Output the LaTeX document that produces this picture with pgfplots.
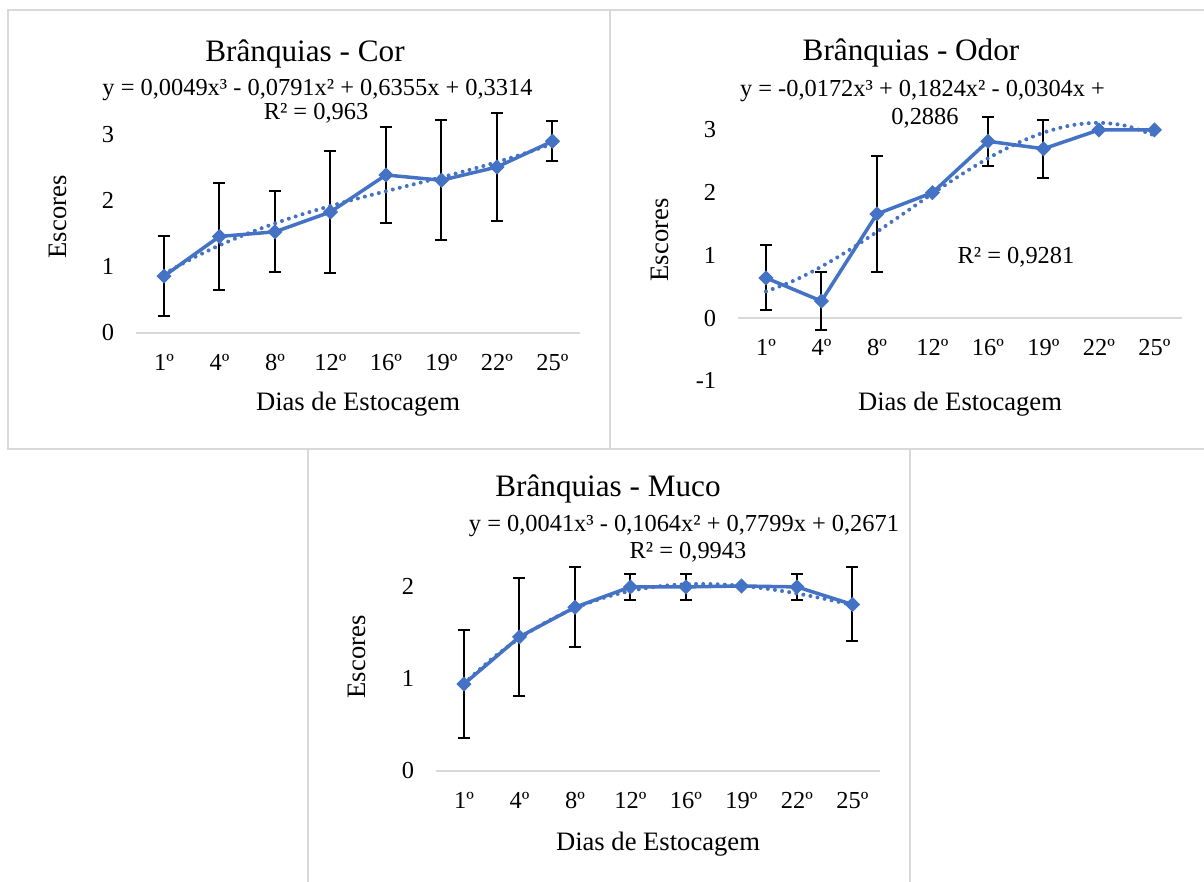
\documentclass[border=0pt]{standalone}
\usepackage{fontspec}
\setmainfont{Liberation Serif}
\usepackage{pgfplots}
\usepackage{pgfplotstable}
\pgfplotsset{compat=1.18}
\definecolor{exblue}{HTML}{4472C4}
\definecolor{gridgray}{HTML}{D9D9D9}
\newcommand\ticksize{\fontsize{12.2}{14}\selectfont}
\newcommand\labsize{\fontsize{13.3}{15}\selectfont}
\newcommand\titsize{\fontsize{15.6}{18}\selectfont}
\newcommand\eqsize{\fontsize{12.2}{14}\selectfont}

% ---- Brânquias - Cor
\pgfplotstableread{
x y e
1 0.86 0.61
2 1.46 0.81
3 1.53 0.61
4 1.83 0.92
5 2.39 0.72
6 2.31 0.91
7 2.51 0.81
8 2.90 0.30
}\cor
\pgfplotstableread{
x y
1 0.893
1.5 1.123
2 1.325
2.5 1.502
3 1.658
3.5 1.797
4 1.921
4.5 2.036
5 2.144
5.5 2.249
6 2.355
6.5 2.466
7 2.585
7.5 2.716
8 2.862
}\corfit
% ---- Brânquias - Odor
\pgfplotstableread{
x y
1 0.64
2 0.27
3 1.66
4 2.00
5 2.82
6 2.70
7 3.00
8 3.00
}\odor
\pgfplotstableread{
x y e
1 0.64 0.52
2 0.27 0.46
3 1.66 0.92
5 2.82 0.39
6 2.70 0.46
}\odorerr
\pgfplotstableread{
x y
1 0.423
1.5 0.595
2 0.820
2.5 1.084
3 1.375
3.5 1.679
4 1.985
4.5 2.278
5 2.547
5.5 2.777
6 2.957
6.5 3.074
7 3.114
7.5 3.064
8 2.913
}\odorfit
% ---- Brânquias - Muco
\pgfplotstableread{
x y
1 0.94
2 1.45
3 1.77
4 1.99
5 1.99
6 2.00
7 1.99
8 1.80
}\muco
\pgfplotstableread{
x y e
1 0.94 0.58
2 1.45 0.64
3 1.77 0.43
4 1.99 0.14
5 1.99 0.14
7 1.99 0.14
8 1.80 0.40
}\mucoerr
\pgfplotstableread{
x y
1 0.945
1.5 1.211
2 1.434
2.5 1.616
3 1.760
3.5 1.869
4 1.947
4.5 1.996
5 2.019
5.5 2.020
6 2.002
6.5 1.967
7 1.919
7.5 1.861
8 1.796
}\mucofit

\pgfplotsset{
  panel/.style={
    scale only axis, width=222pt, anchor=south west,
    xmin=0.5, xmax=8.5,
    xtick={1,2,3,4,5,6,7,8},
    xticklabels={1º,4º,8º,12º,16º,19º,22º,25º},
    axis x line*=middle, axis y line*=left,
    x axis line style={draw=gridgray, line width=1pt},
    y axis line style={draw=none},
    major tick length=0pt,
    hide obscured x ticks=false, hide obscured y ticks=false,
    tick label style={font=\ticksize, text=black},
    xticklabel style={yshift=-7pt},
    yticklabel style={xshift=-7.5pt},
    clip=false,
  },
  errs/.style={forget plot, draw=none, mark=none,
    error bars/.cd, y dir=both, y explicit,
    error bar style={draw=black, solid, line width=1pt},
    error mark options={rotate=90, draw=black, mark size=3pt, line width=1pt}},
  series/.style={exblue, line width=1.75pt, mark=square*, mark size=1.8pt,
    mark options={rotate=45, solid, fill=exblue}},
  trend/.style={exblue, line width=2pt, line cap=round,
    dash pattern=on 0pt off 3.6pt, smooth},
}

\begin{document}
\begin{tikzpicture}
\useasboundingbox (0pt,0pt) rectangle (602pt,441pt);
% panel frames
\draw[gridgray, line width=1pt] (4pt,216.5pt) rectangle (305pt,436pt);
\draw[gridgray, line width=1pt] (602pt,436pt) -- (305pt,436pt) -- (305pt,216.5pt) -- (602pt,216.5pt);
\draw[gridgray, line width=1pt] (154pt,-1pt) -- (154pt,216.5pt) -- (455pt,216.5pt) -- (455pt,-1pt);

% ---------------- Cor
\begin{axis}[panel, at={(68.1pt,274.5pt)}, height=112.4pt,
  ymin=0, ymax=3.4, ytick={0,1,2,3}, yticklabels={0,1,2,3}]
\addplot[errs] table[x=x, y=y, y error=e]{\cor};
\addplot[series] table[x=x, y=y]{\cor};
\addplot[trend] table[x=x, y=y]{\corfit};
\end{axis}
\node[font=\titsize, anchor=base] at (152.5pt,410pt) {Brânquias - Cor};
\node[font=\eqsize, anchor=base] at (158.75pt,393pt) {y = 0,0049x³ - 0,0791x² + 0,6355x + 0,3314};
\node[font=\eqsize, anchor=base] at (158pt,381pt) {R² = 0,963};
\node[font=\labsize, anchor=base] at (179pt,235.5pt) {Dias de Estocagem};
\node[font=\labsize, rotate=90] at (29pt,332.5pt) {Escores};

% ---------------- Odor
\begin{axis}[panel, at={(369.1pt,250.65pt)}, height=137.9pt,
  ymin=-1, ymax=3.4, ytick={-1,0,1,2,3}, yticklabels={-1,0,1,2,3}]
\addplot[errs] table[x=x, y=y, y error=e]{\odorerr};
\addplot[series] table[x=x, y=y]{\odor};
\addplot[trend] table[x=x, y=y]{\odorfit};
\end{axis}
\node[font=\titsize, anchor=base] at (455.5pt,410.5pt) {Brânquias - Odor};
\node[font=\eqsize, anchor=base] at (461.25pt,392.5pt) {y = -0,0172x³ + 0,1824x² - 0,0304x +};
\node[font=\eqsize, anchor=base] at (462.5pt,378.5pt) {0,2886};
\node[font=\eqsize, anchor=base] at (508pt,309pt) {R² = 0,9281};
\node[font=\labsize, anchor=base] at (480pt,235.5pt) {Dias de Estocagem};
\node[font=\labsize, rotate=90] at (330pt,321pt) {Escores};

% ---------------- Muco
\begin{axis}[panel, at={(218.1pt,55.5pt)}, height=111pt,
  ymin=0, ymax=2.4, ytick={0,1,2}, yticklabels={0,1,2}]
\addplot[errs] table[x=x, y=y, y error=e]{\mucoerr};
\addplot[series] table[x=x, y=y]{\muco};
\addplot[trend] table[x=x, y=y]{\mucofit};
\end{axis}
\node[font=\titsize, anchor=base] at (304pt,192.7pt) {Brânquias - Muco};
\node[font=\eqsize, anchor=base] at (342pt,175.2pt) {y = 0,0041x³ - 0,1064x² + 0,7799x + 0,2671};
\node[font=\eqsize, anchor=base] at (344pt,161.5pt) {R² = 0,9943};
\node[font=\labsize, anchor=base] at (329pt,15.5pt) {Dias de Estocagem};
\node[font=\labsize, rotate=90] at (178.5pt,112.5pt) {Escores};
\end{tikzpicture}
\end{document}
